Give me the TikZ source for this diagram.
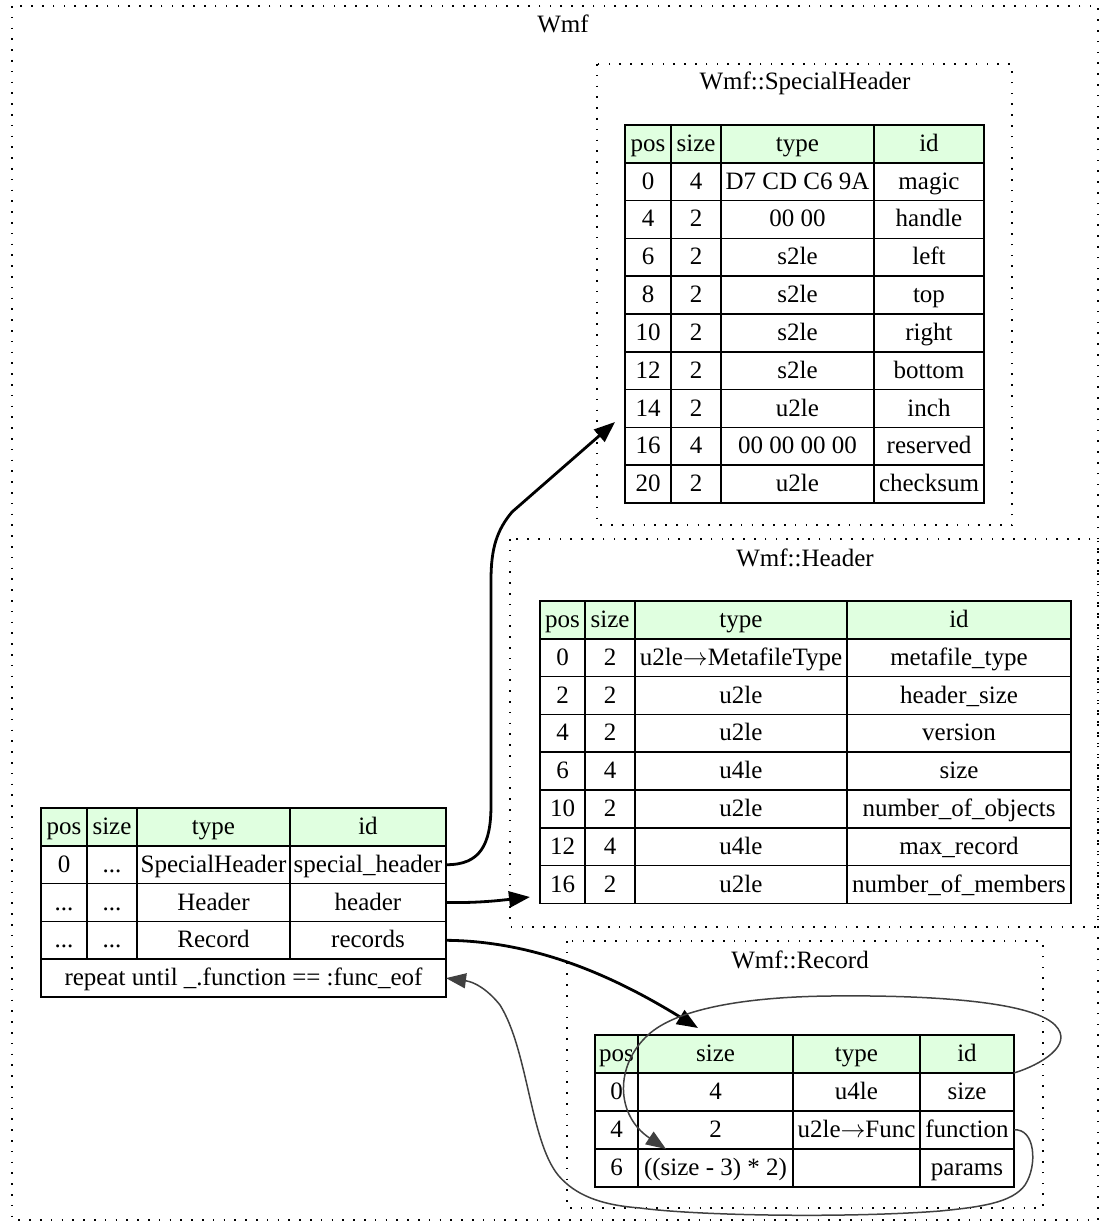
\documentclass[tikz,border=0pt]{standalone}
\usepackage{fontspec}
\setmainfont{Liberation Serif}
\usetikzlibrary{arrows.meta,calc}
\definecolor{hdr}{HTML}{E0FFE0}
\definecolor{edgegray}{HTML}{404040}
\newcommand\arr{\ensuremath{\rightarrow}}
\tikzset{
  cell/.style={draw=black, line width=1.5pt, inner sep=0pt, outer sep=0pt,
    anchor=north west, minimum height=37.8pt, text height=20pt, text depth=5pt,
    font=\fontsize{25}{30}\selectfont},
  hcell/.style={cell, fill=hdr},
  cluster/.style={draw=black, line width=1.6pt, dash pattern=on 1.6pt off 9.2pt},
  ctitle/.style={font=\fontsize{25}{30}\selectfont, inner sep=0pt, anchor=base},
  bedge/.style={draw=black, line width=2.8pt, -{Triangle[length=21pt,width=16pt]}},
  gedge/.style={draw=edgegray, line width=1.5pt, -{Triangle[length=20pt,width=15pt]}},
}
\newcommand\tblrow[8]{%
  \node[#3, minimum width={(\cB-\cA)*1pt}] (#1-#2-1) at (\cA,#4) {#5};
  \node[#3, minimum width={(\cC-\cB)*1pt}] (#1-#2-2) at (\cB,#4) {#6};
  \node[#3, minimum width={(\cD-\cC)*1pt}] (#1-#2-3) at (\cC,#4) {#7};
  \node[#3, minimum width={(\cE-\cD)*1pt}] (#1-#2-4) at (\cD,#4) {#8};
}
\begin{document}
\begin{tikzpicture}[x=1pt,y=-1pt]
\useasboundingbox (0,0) rectangle (1100,1222);

% clusters
\draw[cluster] (12,6) rectangle (1098,1220);
\node[ctitle] (twmf) at (563,33) {Wmf};
\draw[cluster] (597,64) rectangle (1012,525);
\node[ctitle] (tsh) at (805,90) {Wmf::SpecialHeader};
\draw[cluster] (510,539) rectangle (1098,927);
\node[ctitle] (thd) at (805,566) {Wmf::Header};
\draw[cluster] (567,941) rectangle (1043,1208);
\node[ctitle] (trc) at (800,968) {Wmf::Record};

% main table
\def\cA{41}\def\cB{87}\def\cC{137}\def\cD{290}\def\cE{446}
\tblrow{m}{0}{hcell}{808}{pos}{size}{type}{id}
\tblrow{m}{1}{cell}{845.8}{0}{...}{SpecialHeader}{special\_header}
\tblrow{m}{2}{cell}{883.6}{...}{...}{Header}{header}
\tblrow{m}{3}{cell}{921.4}{...}{...}{Record}{records}
\node[cell, minimum width=405pt] (m-4-1) at (41,959.2) {repeat until \_.function == :func\_eof};

% SpecialHeader table
\def\cA{625}\def\cB{671}\def\cC{721}\def\cD{874}\def\cE{984}
\tblrow{s}{0}{hcell}{125}{pos}{size}{type}{id}
\tblrow{s}{1}{cell}{162.8}{0}{4}{D7 CD C6 9A}{magic}
\tblrow{s}{2}{cell}{200.6}{4}{2}{00 00}{handle}
\tblrow{s}{3}{cell}{238.4}{6}{2}{s2le}{left}
\tblrow{s}{4}{cell}{276.2}{8}{2}{s2le}{top}
\tblrow{s}{5}{cell}{314}{10}{2}{s2le}{right}
\tblrow{s}{6}{cell}{351.8}{12}{2}{s2le}{bottom}
\tblrow{s}{7}{cell}{389.6}{14}{2}{u2le}{inch}
\tblrow{s}{8}{cell}{427.4}{16}{4}{00 00 00 00}{reserved}
\tblrow{s}{9}{cell}{465.2}{20}{2}{u2le}{checksum}

% Header table
\def\cA{540}\def\cB{585}\def\cC{635}\def\cD{847}\def\cE{1071}
\tblrow{h}{0}{hcell}{601}{pos}{size}{type}{id}
\tblrow{h}{1}{cell}{638.8}{0}{2}{u2le\arr MetafileType}{metafile\_type}
\tblrow{h}{2}{cell}{676.6}{2}{2}{u2le}{header\_size}
\tblrow{h}{3}{cell}{714.4}{4}{2}{u2le}{version}
\tblrow{h}{4}{cell}{752.2}{6}{4}{u4le}{size}
\tblrow{h}{5}{cell}{790}{10}{2}{u2le}{number\_of\_objects}
\tblrow{h}{6}{cell}{827.8}{12}{4}{u4le}{max\_record}
\tblrow{h}{7}{cell}{865.6}{16}{2}{u2le}{number\_of\_members}

% Record table
\def\cA{595}\def\cB{638}\def\cC{793}\def\cD{920}\def\cE{1014}
\tblrow{r}{0}{hcell}{1035}{pos}{size}{type}{id}
\tblrow{r}{1}{cell}{1073}{0}{4}{u4le}{size}
\tblrow{r}{2}{cell}{1111}{4}{2}{u2le\arr Func}{function}
\tblrow{r}{3}{cell}{1149}{6}{((size - 3) * 2)}{}{params}

% free ends
\coordinate (shtip) at (615,422);
\coordinate (hdtip) at (530,897);
\coordinate (rctip) at (698,1028);
\coordinate (pstip) at ([xshift=28pt]r-3-2.north west);

% edges
\draw[bedge] (m-1-4.east) .. controls (480,865) and (491,845) .. (491,805)
  -- (491,580) .. controls (491,548) and (497,530) .. (512,512) -- (shtip);
\draw[bedge] (m-2-4.east) .. controls (475,903) and (495,901) .. (hdtip);
\draw[bedge] (m-3-4.east) .. controls (540,941) and (620,980) .. (rctip);

\draw[gedge] (r-2-4.east) .. controls (1035,1128) and (1038,1165) .. (1025,1185)
  .. controls (1012,1203) and (980,1207) .. (940,1211)
  .. controls (850,1218) and (700,1216) .. (640,1208)
  .. controls (600,1205) and (575,1195) .. (558,1175)
  .. controls (530,1140) and (528,1050) .. (500,1005)
  .. controls (488,990) and (475,982) .. (m-4-1.east);

\draw[gedge] (r-1-4.north east) .. controls (1040,1065) and (1075,1045) .. (1055,1025)
  .. controls (1030,1000) and (920,995) .. (830,996)
  .. controls (740,997) and (675,1010) .. (648,1035)
  .. controls (615,1065) and (615,1115) .. (pstip);
\end{tikzpicture}
\end{document}
